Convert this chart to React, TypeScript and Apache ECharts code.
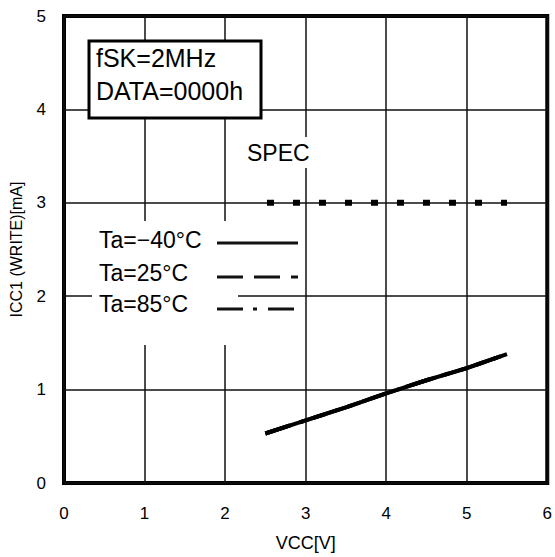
import React, { useEffect, useRef } from "react";
import * as echarts from "echarts";

// ---- data ----
const vcc = [2.5, 3, 3.5, 4, 4.5, 5, 5.5];
const iccM40 = [0.53, 0.67, 0.81, 0.96, 1.1, 1.23, 1.38];
const icc25 = [0.53, 0.67, 0.81, 0.96, 1.1, 1.23, 1.38];
const icc85 = [0.53, 0.67, 0.81, 0.96, 1.1, 1.23, 1.38];
const specVcc = [2.52, 5.5];
const specIcc = [3, 3];
const legendLabels = ["Ta=\u221240\u00b0C", "Ta=25\u00b0C", "Ta=85\u00b0C"];
const noteLines = ["fSK=2MHz", "DATA=0000h"];
const specLabel = "SPEC";
const xName = "VCC[V]";
const yName = "ICC1 (WRITE)[mA]";
const xMin = 0, xMax = 6, yMin = 0, yMax = 5;

const FONT = '"Liberation Sans", Arial, sans-serif';

export default function App() {
  const ref = useRef<HTMLDivElement>(null);
  useEffect(() => {
    if (!ref.current) return;
    const chart = echarts.init(ref.current, undefined, { renderer: "svg" });
    const pair = (xs: number[], ys: number[]) => xs.map((x, i) => [x, ys[i]]);
    chart.setOption({
      animation: false,
      backgroundColor: "#fff",
      textStyle: { fontFamily: FONT, color: "#000" },
      grid: {
        left: 64, top: 16, width: 487, height: 470,
        show: true, borderColor: "#000", borderWidth: 4, backgroundColor: "#fff",
      },
      xAxis: {
        type: "value", min: xMin, max: xMax, interval: 1,
        name: xName, nameLocation: "middle", nameGap: 51,
        nameTextStyle: { fontSize: 18, color: "#000", fontFamily: FONT },
        axisLine: { show: false }, axisTick: { show: false },
        axisLabel: { fontSize: 17, color: "#000", margin: 22, fontFamily: FONT },
        splitLine: { show: true, lineStyle: { color: "#111", width: 1.5 } },
      },
      yAxis: {
        type: "value", min: yMin, max: yMax, interval: 1,
        name: yName, nameLocation: "middle", nameGap: 40, nameRotate: 90,
        nameTextStyle: { fontSize: 16, color: "#000", fontFamily: FONT },
        axisLine: { show: false }, axisTick: { show: false },
        axisLabel: { fontSize: 17, color: "#000", margin: 18, fontFamily: FONT },
        splitLine: { show: true, lineStyle: { color: "#111", width: 1.5 } },
      },
      series: [
        {
          name: legendLabels[2], type: "line", data: pair(vcc, icc85), symbol: "none",
          lineStyle: { color: "#000", width: 4, type: [26, 10, 4, 11] }, z: 3,
        },
        {
          name: legendLabels[1], type: "line", data: pair(vcc, icc25), symbol: "none",
          lineStyle: { color: "#000", width: 4, type: [26, 11] }, z: 4,
        },
        {
          name: legendLabels[0], type: "line", data: pair(vcc, iccM40), symbol: "none",
          lineStyle: { color: "#000", width: 4 }, z: 5,
        },
        {
          name: specLabel, type: "line", data: pair(specVcc, specIcc), symbol: "none",
          lineStyle: { color: "#000", width: 6, type: [7, 19], cap: "butt" }, z: 5,
        },
      ],
      graphic: [
        // annotation box
        {
          type: "rect", z: 100, shape: { x: 89, y: 41, width: 172, height: 77 },
          style: { fill: "#fff", stroke: "#000", lineWidth: 3 },
        },
        {
          type: "text", z: 101, x: 96, y: 58,
          style: { text: noteLines[0], font: `25px ${FONT}`, fill: "#000", verticalAlign: "middle" },
        },
        {
          type: "text", z: 101, x: 96, y: 91,
          style: { text: noteLines[1], font: `25px ${FONT}`, fill: "#000", verticalAlign: "middle" },
        },
        // SPEC label
        {
          type: "rect", z: 100, shape: { x: 245, y: 137, width: 67, height: 31 },
          style: { fill: "#fff" },
        },
        {
          type: "text", z: 101, x: 247, y: 153,
          style: { text: specLabel, font: `23px ${FONT}`, fill: "#000", verticalAlign: "middle" },
        },
        // legend background
        {
          type: "rect", z: 100, shape: { x: 92, y: 221, width: 146, height: 124 },
          style: { fill: "#fff" },
        },
        {
          type: "text", z: 101, x: 99, y: 240,
          style: { text: legendLabels[0], font: `23px ${FONT}`, fill: "#000", verticalAlign: "middle" },
        },
        {
          type: "text", z: 101, x: 99, y: 273,
          style: { text: legendLabels[1], font: `23px ${FONT}`, fill: "#000", verticalAlign: "middle" },
        },
        {
          type: "text", z: 101, x: 99, y: 304,
          style: { text: legendLabels[2], font: `23px ${FONT}`, fill: "#000", verticalAlign: "middle" },
        },
        {
          type: "line", z: 101, shape: { x1: 217, y1: 243, x2: 298, y2: 243 },
          style: { stroke: "#111", lineWidth: 3 },
        },
        {
          type: "line", z: 101, shape: { x1: 217, y1: 277, x2: 298, y2: 277 },
          style: { stroke: "#111", lineWidth: 3, lineDash: [26, 11] },
        },
        {
          type: "line", z: 101, shape: { x1: 217, y1: 309, x2: 296, y2: 309 },
          style: { stroke: "#111", lineWidth: 3, lineDash: [26, 10, 4, 11] },
        },
      ],
    });
    return () => chart.dispose();
  }, []);
  return (
    <div
      ref={ref}
      style={{ position: "fixed", left: 0, top: 0, width: 555, height: 557, background: "#fff" }}
    />
  );
}
